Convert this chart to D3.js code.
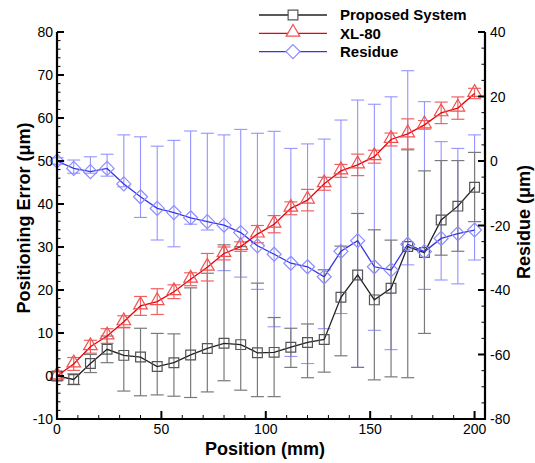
<!DOCTYPE html>
<html>
<head>
<meta charset="utf-8">
<script src="https://cdn.jsdelivr.net/npm/d3@7/dist/d3.min.js"></script>
<style>
  html, body { margin: 0; padding: 0; background: #fff; }
  svg { display: block; }
  text { font-family: "Liberation Sans", Arial, sans-serif; }
</style>
</head>
<body>
<svg id="chart" width="535" height="463"></svg>
<script>
// Measurement positions along the stage (mm)
const positions = [0, 8, 16, 24, 32, 40, 48, 56, 64, 72, 80, 88, 96, 104, 112, 120, 128, 136, 144, 152, 160, 168, 176, 184, 192, 200];

// Proposed system: mean positioning error with min / max bounds (µm)
const proposed   = [0, -0.8, 2.9, 6.2, 4.8, 4.4, 2.2, 3.1, 4.9, 6.4, 7.6, 7.3, 5.4, 5.5, 6.7, 7.8, 8.5, 18.3, 23.5, 17.7, 20.4, 30.1, 28.7, 36.3, 39.5, 43.9];
const proposedLo = [-1, -2, 0.8, 3.1, -3.5, -4.6, -4.4, -4.7, -5.0, -3.7, -1.1, -3.3, -4.8, -4.8, 2.0, -0.4, 0.9, 4.7, 2.0, -0.9, -0.2, -0.4, 9.9, 28.1, 29.0, 35.9];
const proposedHi = [1, 0.5, 5.0, 9.3, 11.3, 11.1, 9.9, 9.8, 20.5, 23.9, 30.5, 30.1, 21.6, 13.6, 11.1, 12.1, 24.7, 30.2, 37.8, 34.0, 31.6, 52.6, 47.7, 50.1, 50.1, 52.0];

// XL-80 laser interferometer reading and its spread (µm)
const xl80    = [0, 2.8, 6.8, 9.3, 12.6, 16.3, 17.3, 19.6, 22.5, 25.3, 28.5, 30.1, 33.0, 35.3, 39.0, 40.9, 44.7, 47.7, 49.1, 51.0, 55.0, 56.3, 58.4, 61.2, 62.3, 65.7];
const xl80Err = [1.0, 1.5, 1.5, 1.7, 1.4, 2.2, 3.0, 1.6, 1.5, 3.2, 1.5, 1.1, 2.0, 2.0, 1.5, 2.5, 1.5, 1.5, 2.5, 1.5, 1.5, 3.5, 1.0, 2.5, 2.6, 1.2];

// Residue between the two (µm, right axis) with min / max bounds
const residue   = [0, -2.3, -3.3, -2.3, -7.1, -11.1, -14.7, -16.0, -17.6, -18.8, -19.9, -22.2, -26.3, -28.9, -31.7, -32.8, -35.9, -28.0, -24.7, -32.8, -33.8, -25.8, -28.1, -24.0, -22.5, -21.4];
const residueLo = [-1, -3.8, -3.8, -4.7, -8.0, -17.5, -24.5, -26.6, -19.6, -21.4, -34, -36, -39.8, -51.4, -60.6, -62.8, -52, -47.3, -64, -52.5, -58.5, -32.2, -39.8, -36.9, -38.1, -30.7];
const residueHi = [1, 0.3, 1.3, 2.1, 8.1, 7.5, 4.6, 6.4, 9.3, 8.6, 8.1, 9.8, 8.6, 9.2, 3.9, 5.3, 6.8, 12.7, 18.9, 17.6, 19.9, 28.0, 18.4, 6.0, 3.9, 8.1];

// Axis ticks
const xTicks     = [0, 50, 100, 150, 200];
const leftTicks  = [-10, 0, 10, 20, 30, 40, 50, 60, 70, 80];
const rightTicks = [-80, -60, -40, -20, 0, 20, 40];

const seriesNames = ["Proposed System", "XL-80", "Residue"];

const svg = d3.select("#chart");
const L = 57, R = 485, T = 32, B = 419;

const x  = d3.scaleLinear().domain([0, 205]).range([L, R]);
const yL = d3.scaleLinear().domain([-10, 80]).range([B, T]);
const yR = d3.scaleLinear().domain([-80, 40]).range([B, T]);

const colBlackLine = "#222", colBlackMark = "#555", colBlackBar = "#7a7a7a";
const colRedLine = "#e8000b", colRedMark = "#f05050", colRedBar = "#f06262";
const colBlueLine = "#3535e8", colBlueMark = "#8c8cff", colBlueBar = "#9494ff";

const pts = positions.map((p, i) => ({
  p,
  b: proposed[i], bLo: proposedLo[i], bHi: proposedHi[i],
  r: xl80[i], rLo: xl80[i] - xl80Err[i], rHi: xl80[i] + xl80Err[i],
  u: residue[i], uLo: residueLo[i], uHi: residueHi[i]
}));

const cap = 6.5;
function errorBars(g, yScale, lo, hi, color, w) {
  const bars = g.selectAll(null).data(pts).enter().append("g")
    .attr("stroke", color).attr("stroke-width", w).attr("fill", "none");
  bars.append("line")
    .attr("x1", d => x(d.p)).attr("x2", d => x(d.p))
    .attr("y1", d => yScale(d[lo])).attr("y2", d => yScale(d[hi]));
  bars.append("line")
    .attr("x1", d => x(d.p) - cap).attr("x2", d => x(d.p) + cap)
    .attr("y1", d => yScale(d[lo])).attr("y2", d => yScale(d[lo]));
  bars.append("line")
    .attr("x1", d => x(d.p) - cap).attr("x2", d => x(d.p) + cap)
    .attr("y1", d => yScale(d[hi])).attr("y2", d => yScale(d[hi]));
}

const plot = svg.append("g");
errorBars(plot, yR, "uLo", "uHi", colBlueBar, 1.1);
errorBars(plot, yL, "bLo", "bHi", colBlackBar, 1.2);
errorBars(plot, yL, "rLo", "rHi", colRedBar, 1.2);

const symSquare   = d3.symbol().type(d3.symbolSquare).size(95);
const symTriangle = d3.symbol().type(d3.symbolTriangle).size(80);
const diamond = "M0,-7L7,0L0,7L-7,0Z";

function series(yScale, key, lineCol, markCol, markPath, dy) {
  plot.append("path").datum(pts)
    .attr("fill", "none").attr("stroke", lineCol).attr("stroke-width", 1.3)
    .attr("d", d3.line().x(d => x(d.p)).y(d => yScale(d[key])));
  plot.selectAll(null).data(pts).enter().append("path")
    .attr("d", markPath)
    .attr("transform", d => `translate(${x(d.p)},${yScale(d[key]) + (dy || 0)})`)
    .attr("fill", "none").attr("stroke", markCol).attr("stroke-width", 1.2);
}
series(yL, "b", colBlackLine, colBlackMark, symSquare);
series(yL, "r", colRedLine, colRedMark, symTriangle, -1);
series(yR, "u", colBlueLine, colBlueMark, diamond);

// Axes: ticks point into the plot
const axes = svg.append("g").attr("stroke", "#000").attr("fill", "none");
axes.append("line").attr("x1", L).attr("x2", L).attr("y1", T).attr("y2", B + 1).attr("stroke-width", 2.2);
axes.append("line").attr("x1", R).attr("x2", R).attr("y1", T).attr("y2", B + 1).attr("stroke-width", 2.2);
axes.append("line").attr("x1", L - 1).attr("x2", R + 1).attr("y1", B).attr("y2", B).attr("stroke-width", 2.2);

function ticks(values, f, w) {
  values.forEach(v => { const a = f(v); axes.append("line").attr("x1", a[0]).attr("y1", a[1]).attr("x2", a[2]).attr("y2", a[3]).attr("stroke-width", w); });
}
ticks(d3.range(-10, 80.1, 2).filter(v => v % 10 !== 0), v => [L, yL(v), L + 3.5, yL(v)], 1);
ticks(leftTicks, v => [L, yL(v), L + 7, yL(v)], 2);
ticks(d3.range(-80, 40.1, 5).filter(v => v % 20 !== 0), v => [R, yR(v), R - 3.5, yR(v)], 1);
ticks(rightTicks, v => [R, yR(v), R - 7, yR(v)], 2);
ticks(d3.range(0, 205, 10).filter(v => v % 50 !== 0), v => [x(v), B, x(v), B - 4], 1);
ticks(xTicks, v => [x(v), B, x(v), B - 8], 2);

const labels = svg.append("g").attr("font-size", 14).attr("fill", "#000");
leftTicks.forEach(v => labels.append("text").attr("x", L - 4).attr("y", yL(v)).attr("dy", "0.36em").attr("text-anchor", "end").text(v));
rightTicks.forEach(v => labels.append("text").attr("x", R + 5).attr("y", yR(v)).attr("dy", "0.36em").attr("text-anchor", "start").text(v));
xTicks.forEach(v => labels.append("text").attr("x", x(v)).attr("y", B + 15).attr("text-anchor", "middle").text(v));

svg.append("text").attr("x", 265).attr("y", 455).attr("text-anchor", "middle")
  .attr("font-size", 18).attr("font-weight", "bold").text("Position (mm)");
svg.append("text").attr("transform", "translate(30,218) rotate(-90)").attr("text-anchor", "middle")
  .attr("font-size", 18).attr("font-weight", "bold").text("Positioning Error (μm)");
svg.append("text").attr("transform", "translate(530,222) rotate(-90)").attr("text-anchor", "middle")
  .attr("font-size", 18).attr("font-weight", "bold").text("Residue (μm)");

// Legend
const legend = svg.append("g");
const legendRows = [
  { line: colBlackLine, mark: colBlackMark, sym: symSquare, dy: 0 },
  { line: colRedLine, mark: colRedMark, sym: symTriangle, dy: -1 },
  { line: colBlueLine, mark: colBlueMark, sym: diamond, dy: 0 }
];
legendRows.forEach((r, i) => {
  const yy = 15 + i * 18.3;
  legend.append("line").attr("x1", 259).attr("x2", 327).attr("y1", yy).attr("y2", yy)
    .attr("stroke", r.line).attr("stroke-width", 1.3);
  legend.append("path").attr("d", r.sym).attr("transform", `translate(293,${yy + r.dy})`)
    .attr("fill", "#fff").attr("stroke", r.mark).attr("stroke-width", 1.2);
  legend.append("text").attr("x", 340).attr("y", yy).attr("dy", "0.36em")
    .attr("font-size", 15).attr("font-weight", "bold").text(seriesNames[i]);
});
</script>
</body>
</html>
